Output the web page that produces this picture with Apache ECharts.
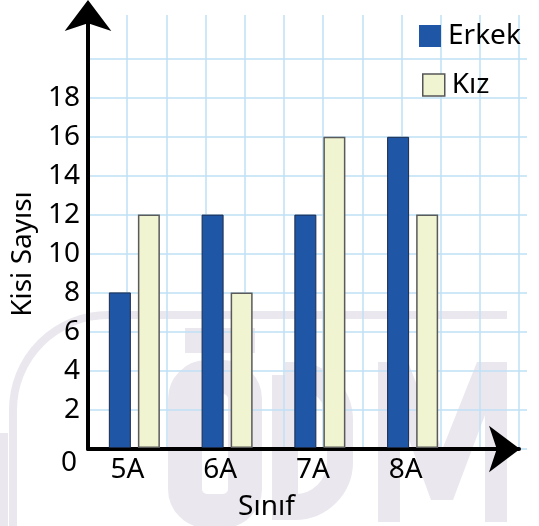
<!DOCTYPE html>
<html>
<head>
<meta charset="utf-8">
<script src="https://cdn.jsdelivr.net/npm/echarts@6/dist/echarts.min.js"></script>
<style>
html,body{margin:0;padding:0;background:#fff;}
#c{width:539px;height:526px;}
</style>
</head>
<body>
<div id="c"></div>
<script>
const categories = ['5A', '6A', '7A', '8A'];
const erkek = [8, 12, 12, 16];
const kiz = [12, 8, 16, 12];
const seriesNames = ['Erkek', 'Kız'];
const yAxisTitle = 'Kisi Sayısı';
const xAxisTitle = 'Sınıf';

const FONT = 'Noto Sans';
const gridColor = '#bfe0f6';
const wm = '#ebe7ee';

const chart = echarts.init(document.getElementById('c'), null, {renderer: 'canvas'});

// faint background watermark (logo), drawn below the grid lines
const watermark = [
  {type: 'line', z: -10, silent: true, shape: {x1: 13, y1: 526, x2: 13, y2: 410},
   style: {stroke: wm, lineWidth: 8}},
  {type: 'arc', z: -10, silent: true,
   shape: {cx: 108, cy: 410, r: 95, startAngle: Math.PI, endAngle: Math.PI * 1.5, clockwise: true},
   style: {stroke: wm, lineWidth: 8, fill: null}},
  {type: 'line', z: -10, silent: true, shape: {x1: 108, y1: 315, x2: 507, y2: 315},
   style: {stroke: wm, lineWidth: 8}},
  {type: 'rect', z: -10, silent: true, shape: {x: 0, y: 433, width: 8, height: 93}, style: {fill: wm}},
  {type: 'rect', z: -10, silent: true, shape: {x: 185, y: 328, width: 70, height: 25}, style: {fill: wm}},
  {type: 'rect', z: -10, silent: true, shape: {x: 185, y: 377, width: 60, height: 134, r: 22},
   style: {fill: null, stroke: wm, lineWidth: 34}},
  {type: 'rect', z: -10, silent: true, shape: {x: 285, y: 375, width: 55, height: 132, r: [0, 45, 45, 0]},
   style: {fill: null, stroke: wm, lineWidth: 26}},
  {type: 'polygon', z: -10, silent: true,
   shape: {points: [[378, 362], [408, 362], [442, 450], [477, 362], [507, 362], [507, 522], [485, 522],
                    [485, 415], [453, 500], [431, 500], [400, 415], [400, 522], [378, 522]]},
   style: {fill: wm}}
];

const option = {
  backgroundColor: '#ffffff',
  animation: false,
  textStyle: {fontFamily: FONT},
  graphic: {elements: watermark},
  grid: [
    {left: 88, right: 12, top: 59, bottom: 77},
    {left: 88, right: 20, top: 15, bottom: 77},
    {left: 88, right: 80, top: 59, bottom: 77}
  ],
  legend: [
    {
      data: [seriesNames[0]], left: 419, top: 22, orient: 'vertical', padding: 0,
      icon: 'rect', itemWidth: 22, itemHeight: 22,
      textStyle: {fontSize: 28, color: '#000', fontFamily: FONT, padding: [0, 0, 0, 2]},
      itemStyle: {borderWidth: 0}
    },
    {
      data: [seriesNames[1]], left: 422, top: 71, orient: 'vertical', padding: 0,
      icon: 'rect', itemWidth: 22, itemHeight: 22,
      textStyle: {fontSize: 28, color: '#000', fontFamily: FONT, padding: [0, 0, 0, 2]},
      itemStyle: {borderColor: '#555', borderWidth: 1.5}
    }
  ],
  xAxis: [
    {gridIndex: 0, type: 'value', min: 0, max: 1, show: false},
    {
      gridIndex: 1, type: 'value', min: 0, max: 11, interval: 1,
      axisLine: {show: true, symbol: ['none', 'arrow'], symbolSize: [35, 31], symbolOffset: [0, 1],
        lineStyle: {color: '#000', width: 4}},
      axisTick: {show: false}, axisLabel: {show: false},
      splitLine: {show: true, lineStyle: {color: gridColor, width: 1.5}}
    },
    {
      gridIndex: 2, type: 'category', data: categories,
      axisLine: {show: false}, axisTick: {show: false},
      axisLabel: {fontSize: 28, color: '#000', margin: 8, padding: [0, 14, 0, 0], fontFamily: FONT},
      name: xAxisTitle, nameLocation: 'middle', nameGap: 45,
      nameTextStyle: {fontSize: 28, color: '#000', fontFamily: FONT, padding: [0, 14, 0, 0]}
    }
  ],
  yAxis: [
    {
      gridIndex: 0, type: 'value', min: 0, max: 20, interval: 2,
      axisLine: {show: false}, axisTick: {show: false},
      axisLabel: {
        margin: 8, color: '#000',
        formatter: function (v) {
          if (v === 20) return '';
          return v === 0 ? '{z|0}' : '{n|' + v + '}';
        },
        rich: {
          z: {fontSize: 28, fontFamily: FONT, color: '#000', padding: [28, 3, 0, 0]},
          n: {fontSize: 28, fontFamily: FONT, color: '#000'}
        }
      },
      splitLine: {show: true, lineStyle: {color: gridColor, width: 1.5}},
      name: yAxisTitle, nameLocation: 'middle', nameGap: 48,
      nameTextStyle: {fontSize: 28, color: '#000', fontFamily: FONT}
    },
    {
      gridIndex: 1, type: 'value', min: 0, max: 1,
      axisLine: {show: true, symbol: ['none', 'arrow'], symbolSize: [35, 31], symbolOffset: [0, 15],
        lineStyle: {color: '#000', width: 4}},
      axisTick: {show: false}, axisLabel: {show: false}, splitLine: {show: false}
    },
    {gridIndex: 2, type: 'value', min: 0, max: 20, show: false}
  ],
  series: [
    {
      name: seriesNames[0], type: 'bar', xAxisIndex: 2, yAxisIndex: 2,
      data: erkek, barWidth: 22, barGap: '32%',
      itemStyle: {color: '#1f56a5', borderColor: '#1b2b4c', borderWidth: 1}
    },
    {
      name: seriesNames[1], type: 'bar', xAxisIndex: 2, yAxisIndex: 2,
      data: kiz, barWidth: 22, barGap: '32%',
      itemStyle: {color: '#f0f4d0', borderColor: '#5a5a5a', borderWidth: 1.5}
    }
  ]
};
chart.setOption(option);
</script>
</body>
</html>
